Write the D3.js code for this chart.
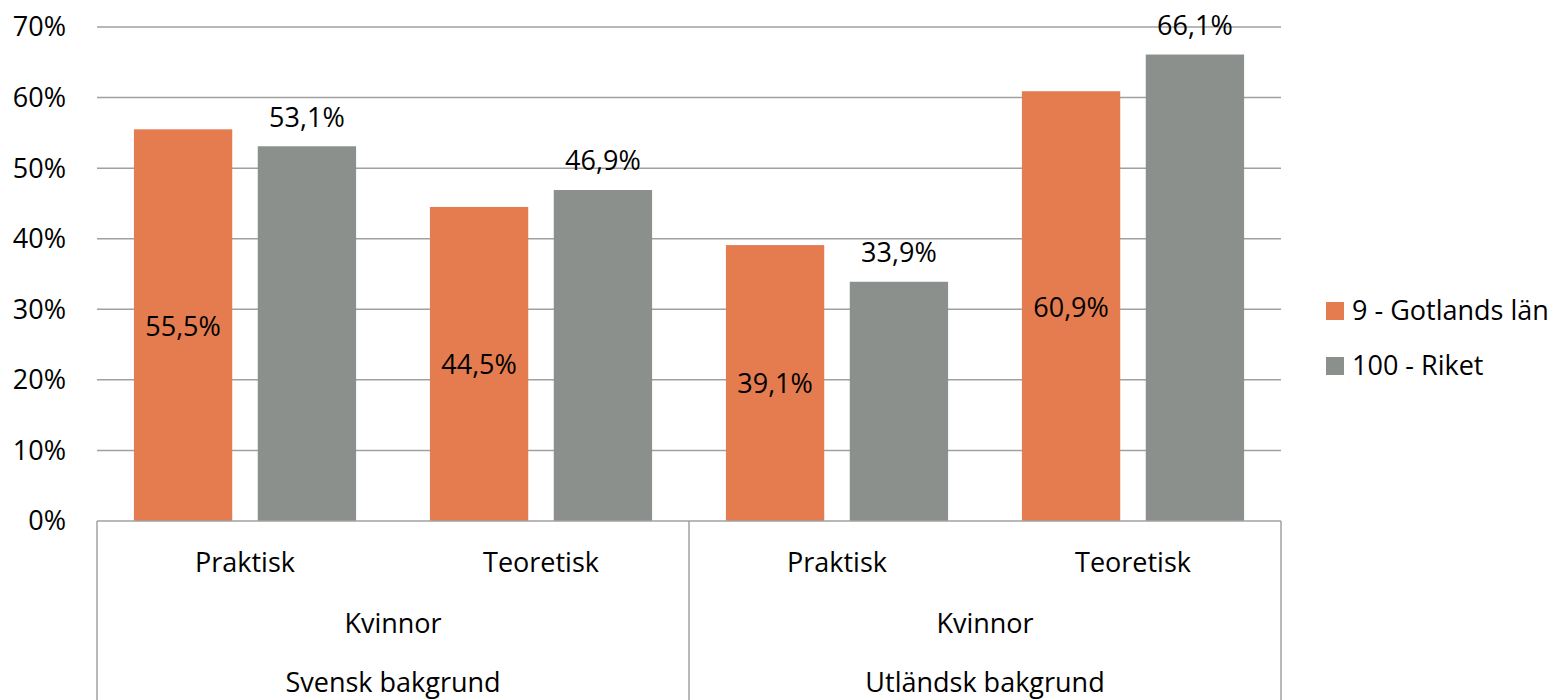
<!DOCTYPE html>
<html>
<head>
<meta charset="utf-8">
<script src="https://cdn.jsdelivr.net/npm/d3@7/dist/d3.min.js"></script>
<style>
  html, body { margin: 0; padding: 0; background: #fff; }
  svg text { font-family: "Open Sans", "Noto Sans", sans-serif; fill: #000; }
</style>
</head>
<body>
<svg id="chart" width="1558" height="700"></svg>
<script>
// ---- data ----
const categories = ["Svensk-Kvinnor-Praktisk", "Svensk-Kvinnor-Teoretisk", "Utländsk-Kvinnor-Praktisk", "Utländsk-Kvinnor-Teoretisk"];
const level1Labels = ["Praktisk", "Teoretisk", "Praktisk", "Teoretisk"];
const level2Labels = ["Kvinnor", "Kvinnor"];
const level3Labels = ["Svensk bakgrund", "Utländsk bakgrund"];
const seriesNames = ["9 - Gotlands län", "100 - Riket"];
const gotlandValues = [0.555, 0.445, 0.391, 0.609];
const riketValues = [0.531, 0.469, 0.339, 0.661];
const yTicks = [0, 0.1, 0.2, 0.3, 0.4, 0.5, 0.6, 0.7];
const seriesColors = ["#E57C50", "#8B908D"];

(function () {
const series = [gotlandValues, riketValues];

const svg = d3.select("#chart");
const plotLeft = 97, plotRight = 1281, plotTop = 27, plotBottom = 521, axisBottom = 700;
const fontSize = 27;
const gridColor = "#A0A0A0";

const x0 = d3.scaleBand().domain(categories).range([plotLeft, plotRight]).paddingInner(0).paddingOuter(0);
const x1 = d3.scaleBand().domain(d3.range(seriesNames.length)).range([0, x0.bandwidth()]).paddingInner(0.206).paddingOuter(0.298);
const y = d3.scaleLinear().domain([0, 0.7]).range([plotBottom, plotTop]);

const fmt = v => d3.format(".1f")(v * 100).replace(".", ",") + "%";

// gridlines
svg.append("g").selectAll("line").data(yTicks.slice(1)).join("line")
  .attr("x1", plotLeft).attr("x2", plotRight)
  .attr("y1", d => y(d)).attr("y2", d => y(d))
  .attr("stroke", gridColor).attr("stroke-width", 1.5);

// y labels
svg.append("g").selectAll("text").data(yTicks).join("text")
  .attr("x", 66).attr("y", d => y(d)).attr("dy", "0.35em")
  .attr("text-anchor", "end").attr("font-size", fontSize)
  .text(d => Math.round(d * 100) + "%");

// bars
const groups = svg.append("g").selectAll("g").data(categories).join("g")
  .attr("transform", d => `translate(${x0(d)},0)`);

groups.selectAll("rect").data((d, i) => series.map((s, si) => ({ si, v: s[i] }))).join("rect")
  .attr("x", d => x1(d.si)).attr("width", x1.bandwidth())
  .attr("y", d => y(d.v)).attr("height", d => y(0) - y(d.v))
  .attr("fill", d => seriesColors[d.si]);

// value labels
groups.selectAll("text").data((d, i) => series.map((s, si) => ({ si, v: s[i] }))).join("text")
  .attr("x", d => x1(d.si) + x1.bandwidth() / 2)
  .attr("y", d => d.si === 0 ? (y(d.v) + y(0)) / 2 + 1 : y(d.v) - 29)
  .attr("dy", "0.35em")
  .attr("text-anchor", "middle").attr("font-size", fontSize)
  .text(d => fmt(d.v));

// category axis
const axisG = svg.append("g");
axisG.append("line").attr("x1", plotLeft).attr("x2", plotRight).attr("y1", plotBottom).attr("y2", plotBottom)
  .attr("stroke", gridColor).attr("stroke-width", 1.5);
const dividers = [plotLeft, x0(categories[2]), plotRight];
axisG.selectAll("line.div").data(dividers).join("line").attr("class", "div")
  .attr("x1", d => d).attr("x2", d => d).attr("y1", plotBottom).attr("y2", axisBottom)
  .attr("stroke", gridColor).attr("stroke-width", 1.5);

axisG.selectAll("text.l1").data(categories).join("text").attr("class", "l1")
  .attr("x", d => x0(d) + x0.bandwidth() / 2).attr("y", 563).attr("dy", "0.35em")
  .attr("text-anchor", "middle").attr("font-size", fontSize)
  .text((d, i) => level1Labels[i]);

const groupCenters = [0, 1].map(g => (x0(categories[g * 2]) + x0(categories[g * 2 + 1]) + x0.bandwidth()) / 2);
axisG.selectAll("text.l2").data(level2Labels).join("text").attr("class", "l2")
  .attr("x", (d, i) => groupCenters[i]).attr("y", 624).attr("dy", "0.35em")
  .attr("text-anchor", "middle").attr("font-size", fontSize)
  .text(d => d);
axisG.selectAll("text.l3").data(level3Labels).join("text").attr("class", "l3")
  .attr("x", (d, i) => groupCenters[i]).attr("y", 683).attr("dy", "0.35em")
  .attr("text-anchor", "middle").attr("font-size", fontSize)
  .text(d => d);

// legend
const legend = svg.append("g").selectAll("g").data(seriesNames).join("g")
  .attr("transform", (d, i) => `translate(1326,${311 + i * 55})`);
legend.append("rect").attr("x", 0).attr("y", -9).attr("width", 18).attr("height", 18)
  .attr("fill", (d, i) => seriesColors[i]);
legend.append("text").attr("x", 26).attr("y", 0).attr("dy", "0.35em")
  .attr("font-size", fontSize).text(d => d);
})();
</script>
</body>
</html>
